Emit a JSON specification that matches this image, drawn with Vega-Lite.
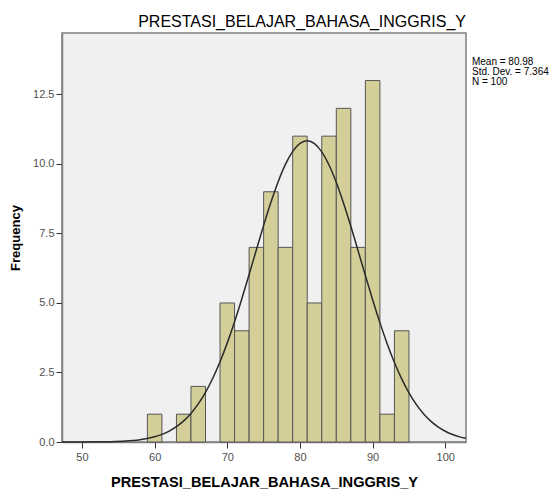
{
  "$schema": "https://vega.github.io/schema/vega-lite/v6.json",
  "width": 404,
  "height": 409,
  "autosize": {"type": "none"},
  "padding": {"left": 62, "top": 33, "right": 91, "bottom": 47},
  "background": "white",
  "title": {"text": "PRESTASI_BELAJAR_BAHASA_INGGRIS_Y", "anchor": "end", "frame": "group", "font": "Liberation Sans", "fontSize": 16, "fontWeight": "normal", "color": "#000000", "offset": 3},
  "config": {
    "view": {"fill": "#f0f0f0", "stroke": "#808080", "strokeWidth": 1.5},
    "axis": {"labelFont": "Liberation Sans", "titleFont": "Liberation Sans", "labelColor": "#505050", "labelFontSize": 11, "domainColor": "#808080", "domainWidth": 1.5, "tickColor": "#303030", "tickSize": 6, "grid": false, "titleColor": "#000000", "titleFontWeight": "bold"}
  },
  "layer": [
    {
      "data": {"values": [
        {"bin_start": 59, "bin_end": 61, "count": 1},
        {"bin_start": 63, "bin_end": 65, "count": 1},
        {"bin_start": 65, "bin_end": 67, "count": 2},
        {"bin_start": 69, "bin_end": 71, "count": 5},
        {"bin_start": 71, "bin_end": 73, "count": 4},
        {"bin_start": 73, "bin_end": 75, "count": 7},
        {"bin_start": 75, "bin_end": 77, "count": 9},
        {"bin_start": 77, "bin_end": 79, "count": 7},
        {"bin_start": 79, "bin_end": 81, "count": 11},
        {"bin_start": 81, "bin_end": 83, "count": 5},
        {"bin_start": 83, "bin_end": 85, "count": 11},
        {"bin_start": 85, "bin_end": 87, "count": 12},
        {"bin_start": 87, "bin_end": 89, "count": 7},
        {"bin_start": 89, "bin_end": 91, "count": 13},
        {"bin_start": 91, "bin_end": 93, "count": 1},
        {"bin_start": 93, "bin_end": 95, "count": 4}
      ]},
      "mark": {"type": "rect", "fill": "#d4cf99", "stroke": "#555555", "strokeWidth": 1},
      "encoding": {
        "x": {"field": "bin_start", "type": "quantitative", "scale": {"domain": [47.25, 102.85], "nice": false, "zero": false},
              "axis": {"values": [50, 60, 70, 80, 90, 100], "title": "PRESTASI_BELAJAR_BAHASA_INGGRIS_Y", "titleFontSize": 14.6, "titlePadding": 12, "labelPadding": 3}},
        "x2": {"field": "bin_end"},
        "y": {"field": "count", "type": "quantitative", "scale": {"domain": [0, 14.71], "nice": false},
              "axis": {"values": [0, 2.5, 5, 7.5, 10, 12.5], "format": ".1f", "title": "Frequency", "titleFontSize": 13, "titlePadding": 10, "labelPadding": 2}},
        "y2": {"datum": 0}
      }
    },
    {
      "data": {"values": [
        {"x": 47.25, "y": 0.0003}, {"x": 48, "y": 0.0005}, {"x": 50, "y": 0.0016}, {"x": 52, "y": 0.0047},
        {"x": 54, "y": 0.0132}, {"x": 56, "y": 0.0344}, {"x": 57, "y": 0.054}, {"x": 58, "y": 0.083},
        {"x": 59, "y": 0.126}, {"x": 60, "y": 0.187}, {"x": 61, "y": 0.273}, {"x": 62, "y": 0.391},
        {"x": 63, "y": 0.55}, {"x": 64, "y": 0.759}, {"x": 65, "y": 1.029}, {"x": 66, "y": 1.369},
        {"x": 67, "y": 1.787}, {"x": 68, "y": 2.292}, {"x": 69, "y": 2.885}, {"x": 70, "y": 3.565},
        {"x": 71, "y": 4.325}, {"x": 72, "y": 5.151}, {"x": 73, "y": 6.024}, {"x": 74, "y": 6.914},
        {"x": 75, "y": 7.792}, {"x": 76, "y": 8.621}, {"x": 77, "y": 9.363}, {"x": 78, "y": 9.983},
        {"x": 79, "y": 10.45}, {"x": 80, "y": 10.74}, {"x": 81, "y": 10.835}, {"x": 82, "y": 10.731},
        {"x": 83, "y": 10.435}, {"x": 84, "y": 9.961}, {"x": 85, "y": 9.335}, {"x": 86, "y": 8.589},
        {"x": 87, "y": 7.757}, {"x": 88, "y": 6.879}, {"x": 89, "y": 5.988}, {"x": 90, "y": 5.117},
        {"x": 91, "y": 4.293}, {"x": 92, "y": 3.536}, {"x": 93, "y": 2.859}, {"x": 94, "y": 2.27},
        {"x": 95, "y": 1.769}, {"x": 96, "y": 1.353}, {"x": 97, "y": 1.017}, {"x": 98, "y": 0.75},
        {"x": 99, "y": 0.543}, {"x": 100, "y": 0.386}, {"x": 101, "y": 0.269}, {"x": 102, "y": 0.184},
        {"x": 102.85, "y": 0.132}
      ]},
      "mark": {"type": "line", "color": "#2a2a2a", "strokeWidth": 1.5, "interpolate": "monotone"},
      "encoding": {
        "x": {"field": "x", "type": "quantitative"},
        "y": {"field": "y", "type": "quantitative"}
      }
    },
    {
      "data": {"values": [{}]},
      "mark": {"type": "text", "text": ["Mean = 80.98", "Std. Dev. = 7.364", "N = 100"], "font": "Liberation Sans", "fontSize": 10, "lineHeight": 10, "align": "left", "baseline": "top", "color": "#000000"},
      "encoding": {
        "x": {"datum": 103.67},
        "y": {"datum": 13.86}
      }
    }
  ]
}
